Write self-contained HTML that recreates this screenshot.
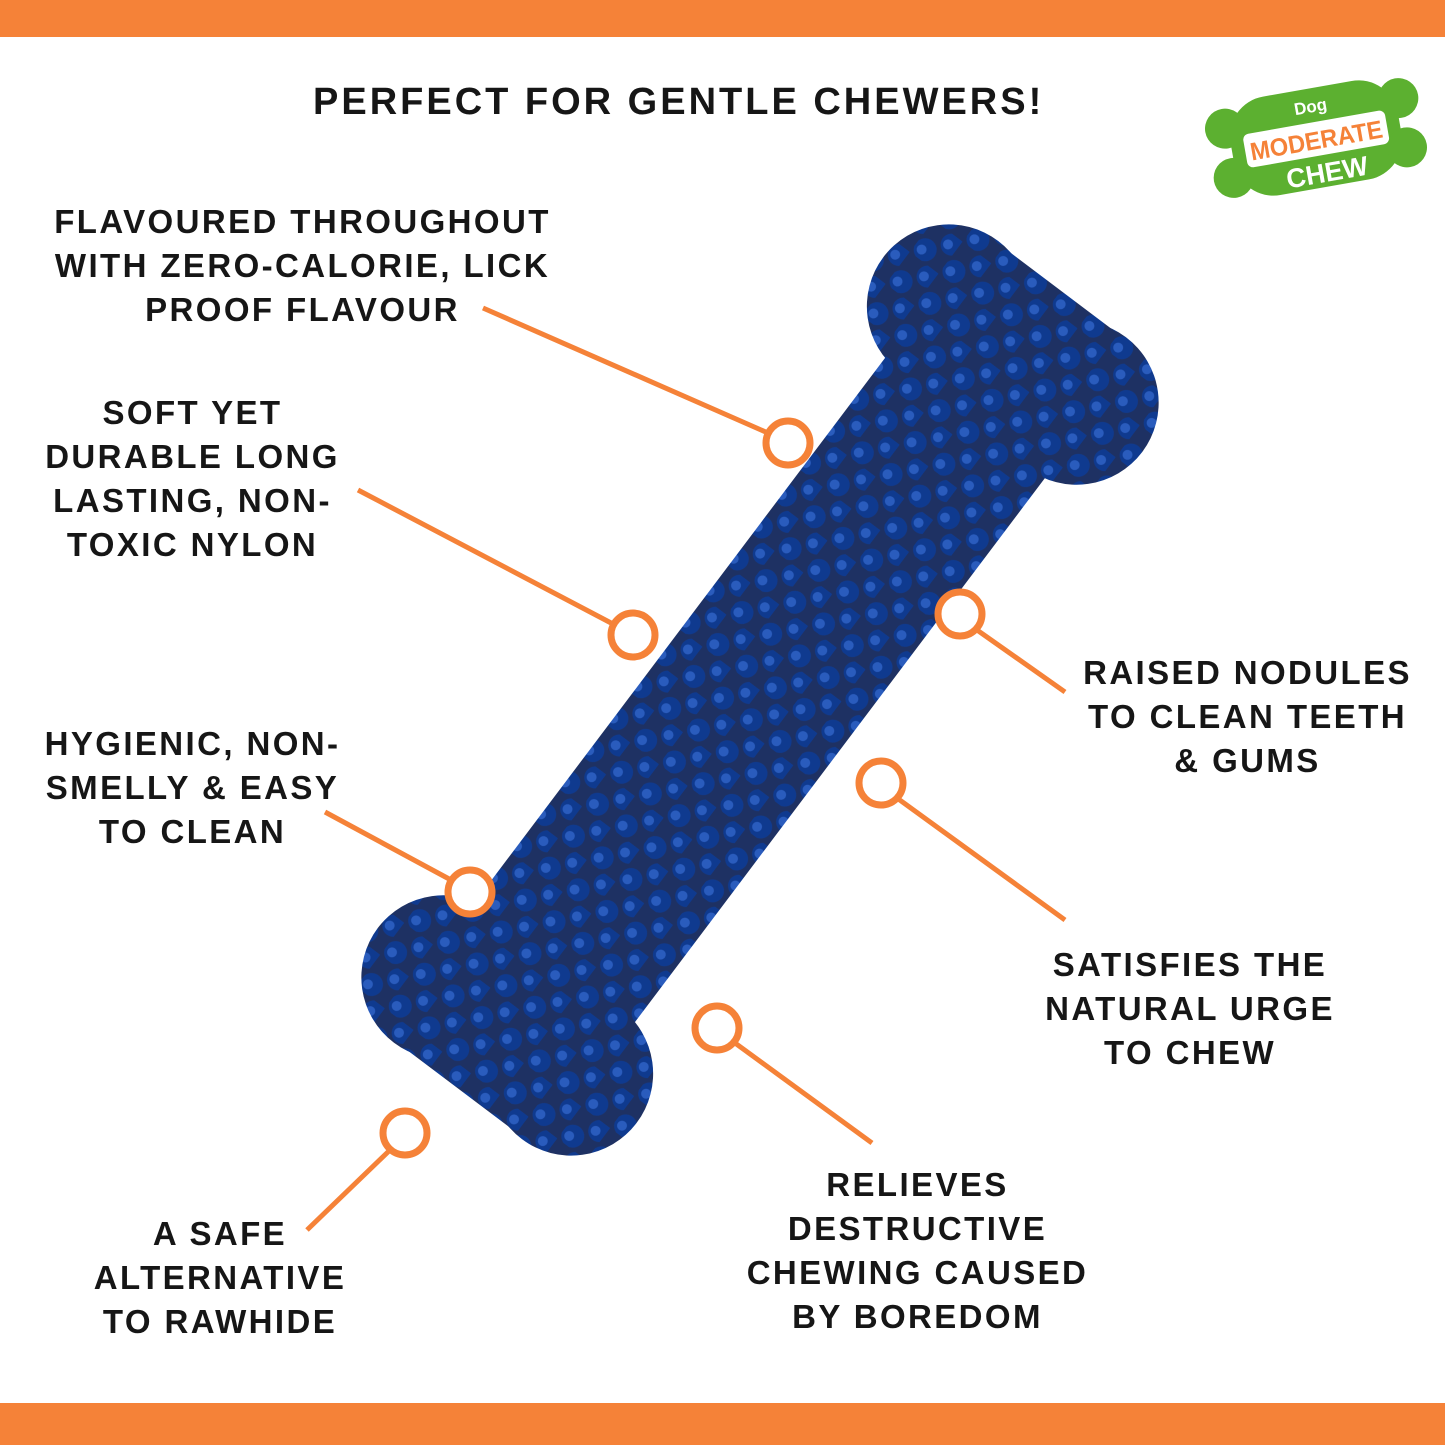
<!DOCTYPE html>
<html><head><meta charset="utf-8"><style>
body{margin:0;width:1445px;height:1445px;background:#fff;position:relative;overflow:hidden;font-family:"Liberation Sans",sans-serif}
.bar{position:absolute;left:0;width:1445px;background:#F58238}
.t{position:absolute;font-weight:bold;font-size:33px;letter-spacing:2.4px;line-height:44px;color:#161616;text-align:center;white-space:nowrap}
</style></head><body>
<div class="bar" style="top:0;height:37px"></div>
<div class="bar" style="top:1403px;height:42px"></div>
<div class="t" style="left:313px;top:80px;font-size:38px;letter-spacing:3px">PERFECT FOR GENTLE CHEWERS!</div>
<div class="t" style="left:40px;top:200px;width:525px">FLAVOURED THROUGHOUT<br>WITH ZERO-CALORIE, LICK<br>PROOF FLAVOUR</div>
<div class="t" style="left:30px;top:391px;width:325px">SOFT YET<br>DURABLE LONG<br>LASTING, NON-<br>TOXIC NYLON</div>
<div class="t" style="left:30px;top:722px;width:325px">HYGIENIC, NON-<br>SMELLY &amp; EASY<br>TO CLEAN</div>
<div class="t" style="left:60px;top:1212px;width:320px">A SAFE<br>ALTERNATIVE<br>TO RAWHIDE</div>
<div class="t" style="left:1075px;top:651px;width:345px">RAISED NODULES<br>TO CLEAN TEETH<br>&amp; GUMS</div>
<div class="t" style="left:1030px;top:943px;width:320px">SATISFIES THE<br>NATURAL URGE<br>TO CHEW</div>
<div class="t" style="left:730px;top:1163px;width:375px">RELIEVES<br>DESTRUCTIVE<br>CHEWING CAUSED<br>BY BOREDOM</div>
<svg width="1445" height="1445" style="position:absolute;left:0;top:0">
<defs>
<pattern id="p" width="40" height="36" patternUnits="userSpaceOnUse">
<rect width="40" height="36" fill="#1e3163"/>
<circle cx="11" cy="11" r="11.5" fill="#0f3a8f"/><circle cx="9" cy="8" r="5" fill="#2a5cbd"/>
<circle cx="31" cy="29" r="11" fill="#0f3a8f"/><circle cx="29" cy="26" r="5" fill="#2a5cbd"/></pattern>
</defs>
<g transform="translate(760,690) rotate(-53)" fill="url(#p)">
<rect x="-430" y="-100" width="860" height="200" rx="40"/>
<circle cx="-420" cy="-80" r="82"/><circle cx="-420" cy="80" r="82"/>
<circle cx="420" cy="-80" r="82"/><circle cx="420" cy="80" r="82"/>
<rect x="-500" y="-130" width="120" height="260" rx="50"/>
<rect x="380" y="-130" width="120" height="260" rx="50"/></g>
<g stroke="#F58238" stroke-width="5" fill="none">
<line x1="483" y1="308" x2="768" y2="433"/>
<line x1="358" y1="490" x2="613" y2="624"/>
<line x1="325" y1="812" x2="451" y2="880"/>
<line x1="390" y1="1150" x2="307" y2="1230"/>
<line x1="735" y1="1043" x2="872" y2="1143"/>
<line x1="897" y1="798" x2="1065" y2="920"/>
<line x1="977" y1="630" x2="1065" y2="692"/>
<g stroke-width="7" fill="#fff">
<circle cx="788" cy="443" r="22"/><circle cx="633" cy="635" r="22"/>
<circle cx="470" cy="892" r="22"/><circle cx="405" cy="1133" r="22"/>
<circle cx="717" cy="1028" r="22"/><circle cx="881" cy="783" r="22"/>
<circle cx="960" cy="614" r="22"/></g></g>
<g transform="translate(1316,138) rotate(-10)">
<g fill="#5cb030"><rect x="-85" y="-50" width="170" height="100" rx="40"/>
<circle cx="-88" cy="-25" r="20"/><circle cx="-88" cy="25" r="20"/>
<circle cx="88" cy="-25" r="20"/><circle cx="88" cy="25" r="20"/></g>
<rect x="-72" y="-16" width="144" height="34" fill="#fff" rx="6"/>
<text x="0" y="-26" font-size="17" font-weight="bold" fill="#fff" text-anchor="middle">Dog</text>
<text x="0" y="11" font-size="25" font-weight="bold" fill="#F58238" text-anchor="middle" textLength="134" lengthAdjust="spacingAndGlyphs">MODERATE</text>
<text x="5" y="45" font-size="27" font-weight="bold" fill="#fff" text-anchor="middle">CHEW</text>
</g>
</svg>
</body></html>
